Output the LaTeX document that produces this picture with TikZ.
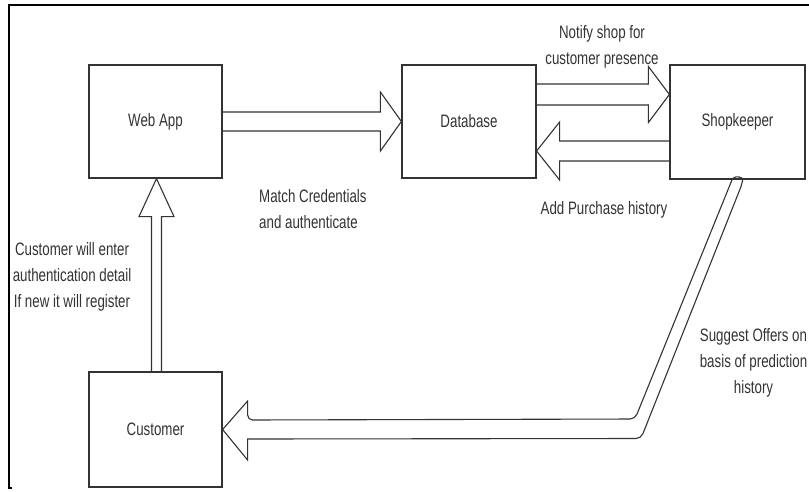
\documentclass[tikz,border=0pt]{standalone}
\usepackage{fontspec}
\setmainfont{Liberation Sans}[FakeStretch=0.74]
\usetikzlibrary{calc}
\definecolor{ink}{HTML}{333333}
\tikzset{
  txt/.style={font=\fontsize{18}{26}\selectfont, text=ink},
  box/.style={draw=ink, line width=1.2pt, fill=white, inner sep=0pt, txt},
  lbl/.style={inner sep=0pt, align=center, txt},
  flexline/.style={draw=ink, line width=1.1pt, line join=miter},
}
\newcommand\fatarrow[5]{%
  \coordinate (fah) at ($(#2)!#5!(#1)$);
  \draw[flexline] ($(#1)!#3!90:(#2)$) -- ($(fah)!#3!90:(#2)$) -- ($(fah)!#4!90:(#2)$)
    -- (#2) -- ($(fah)!#4!-90:(#2)$) -- ($(fah)!#3!-90:(#2)$) -- ($(#1)!#3!-90:(#2)$);}
\begin{document}
\begin{tikzpicture}[x=1pt,y=-1pt]
\useasboundingbox (0,0) rectangle (809,491);
\clip (0,0) rectangle (809,491);
% frame
\draw[black, line width=1.5pt] (809,5) -- (9,5) -- (9,488) -- (12,488);
% boxes
\node[box, minimum width=133pt, minimum height=113pt] (webapp) at (155.5,121.5) {Web App};
\node[box, minimum width=134pt, minimum height=113pt] (db) at (469,121.5) {Database};
\node[box, minimum width=135pt, minimum height=114pt] (shop) at (737.5,122) {Shopkeeper};
\node[box, minimum width=133pt, minimum height=115pt] (customer) at (155.5,429.5) {Customer};
% arrows
\fatarrow{webapp.east}{db.west}{9.5pt}{29.5pt}{21pt}
\coordinate (ns) at ($(db.east)+(0,-27)$);
\coordinate (ne) at (shop.west |- ns);
\fatarrow{ns}{ne}{10.5pt}{28pt}{21pt}
\coordinate (ps) at ($(shop.west)+(0,29)$);
\coordinate (pe) at (db.east |- ps);
\fatarrow{ps}{pe}{10pt}{29pt}{23pt}
\coordinate (cs) at ($(customer.north)+(1,0)$);
\coordinate (ce) at (webapp.south -| cs);
\fatarrow{cs}{ce}{5pt}{17.5pt}{38pt}
% bent arrow shopkeeper -> customer
\coordinate (s1) at ($(shop.south)+(-5,-1)$);
\coordinate (s2) at ($(shop.south)+(4.5,4.5)$);
\coordinate (k1) at (635,419);
\coordinate (k2) at (641,438.5);
\draw[flexline] (s1) [rounded corners=5pt] -- (k1) -- ($(customer.east)+(25,-9.5)$)
  [sharp corners] -- ($(customer.east)+(25,-28.5)$) -- (customer.east)
  -- ($(customer.east)+(25,30.5)$) -- ($(customer.east)+(25,9.5)$)
  [rounded corners=5pt] -- (k2) -- (s2) [sharp corners]
  .. controls ($(s2)+(1,-6)$) and ($(s1)+(4,-4)$) .. (s1);
% labels
\node[lbl] (lnotify) at (602,46.5) {Notify shop for\\customer presence};
\node[lbl, align=left, anchor=west] (lmatch) at (259,209) {Match Credentials\\and authenticate};
\node[lbl] (lpurch) at (604,210) {Add Purchase history};
\node[lbl] (lcust) at (72,277) {Customer will enter\\authentication detail\\If new it will register};
\node[lbl] (lsugg) at (753.5,363) {Suggest Offers on\\basis of prediction\\history};
\end{tikzpicture}
\end{document}
